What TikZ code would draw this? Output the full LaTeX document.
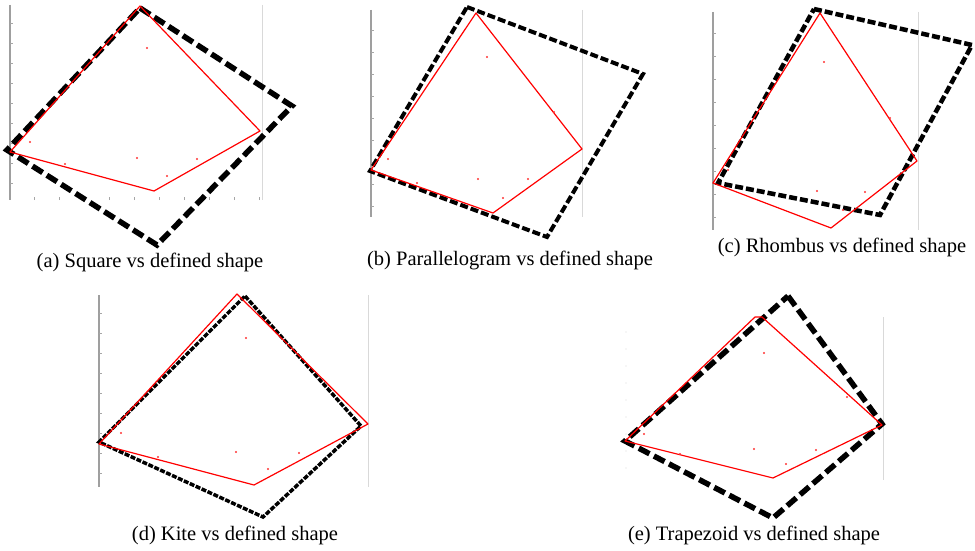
\documentclass[tikz,border=0pt]{standalone}
\usepackage{fontspec}
\setmainfont{Liberation Serif}
\begin{document}
\begin{tikzpicture}[x=1pt, y=-1pt,
  axisline/.style={draw=gray!75, line width=1.2pt},
  farline/.style={draw=gray!30, line width=1pt},
  tickmark/.style={draw=gray!70, line width=0.8pt},
  defshape/.style={draw=black, line width=5.5pt, dash pattern=on 12pt off 5pt},
  fitshape/.style={draw=red, line width=1.2pt, line join=round},
  speck/.style={fill=red!80},
  caption/.style={font=\fontsize{20.5}{24}\selectfont, anchor=base}
]
  \useasboundingbox (0,0) rectangle (975,551);

  % (a) square
  \draw[axisline] (10,5) -- (10,200);
  \draw[farline] (262,5) -- (262,200);
  \foreach \y in {23,43,...,183} \draw[tickmark] (10,\y) -- (13,\y);
  \foreach \x in {34,59,...,260} \draw[tickmark] (\x,200) -- (\x,197);
  \draw[defshape] (140,8) -- (292,106) -- (157,245) -- (7,150) -- cycle;
  \draw[fitshape] (10,152) -- (140,6) -- (260,131) -- (154,191) -- cycle;
  \foreach \p in {(147,48),(30,142),(65,164),(137,158),(167,176),(197,159)}
    \fill[speck] \p circle (1.1);
  \node[caption] (capa) at (150,267) {(a) Square vs defined shape};

  % (b) parallelogram
  \draw[axisline] (371,10) -- (371,217);
  \draw[farline] (582,10) -- (582,217);
  \foreach \y in {30,52,...,206} \draw[tickmark] (371,\y) -- (374,\y);
  \draw[defshape, line width=4pt, dash pattern=on 8pt off 3pt]
    (467,7) -- (643,74) -- (547,237) -- (370,171) -- cycle;
  \draw[fitshape] (371,170) -- (476,13) -- (582,149) -- (493,213) -- cycle;
  \foreach \p in {(487,57),(388,159),(478,179),(528,179),(503,198),(417,183),(554,112)}
    \fill[speck] \p circle (1.1);
  \node[caption] (capb) at (510,265) {(b) Parallelogram vs defined shape};

  % (c) rhombus
  \draw[axisline] (713,12) -- (713,230);
  \draw[farline] (918,12) -- (918,230);
  \foreach \y in {33,56,...,217} \draw[tickmark] (713,\y) -- (716,\y);
  \draw[defshape, line width=4.5pt, dash pattern=on 8pt off 3pt]
    (814,9) -- (972,45) -- (880,215) -- (718,183) -- cycle;
  \draw[fitshape] (713,183) -- (820,13) -- (917,161) -- (831,228) -- cycle;
  \foreach \p in {(824,62),(817,191),(865,192),(890,118),(728,170),(843,210)}
    \fill[speck] \p circle (1.1);
  \node[caption] (capc) at (842,252) {(c) Rhombus vs defined shape};

  % (d) kite
  \draw[axisline] (99,295) -- (99,487);
  \draw[farline] (368,295) -- (368,487);
  \foreach \y in {313,333,...,474} \draw[tickmark] (99,\y) -- (102,\y);
  \draw[defshape, line width=3.5pt, dash pattern=on 5pt off 1.5pt]
    (245,296) -- (361,426) -- (263,517) -- (99,442) -- cycle;
  \draw[fitshape] (99,444) -- (237,294) -- (368,424) -- (254,485) -- cycle;
  \foreach \p in {(246,338),(121,433),(158,457),(236,452),(299,453),(268,469)}
    \fill[speck] \p circle (1.1);
  \node[caption] (capd) at (235,540) {(d) Kite vs defined shape};

  % (e) trapezoid
  \foreach \y in {332,349,...,468} \fill[gray!30] (626,\y) circle (0.6);
  \draw[farline] (883,317) -- (883,480);
  \draw[defshape]
    (788,296) -- (882,424) -- (773,518) -- (625,441) -- cycle;
  \draw[fitshape] (625,441) -- (755,317) -- (762,317) -- (882,425) -- (773,478) -- cycle;
  \foreach \p in {(764,353),(644,434),(680,454),(754,449),(816,450),(786,464),(847,397)}
    \fill[speck] \p circle (1.1);
  \node[caption] (cape) at (754,540) {(e) Trapezoid vs defined shape};
\end{tikzpicture}
\end{document}
